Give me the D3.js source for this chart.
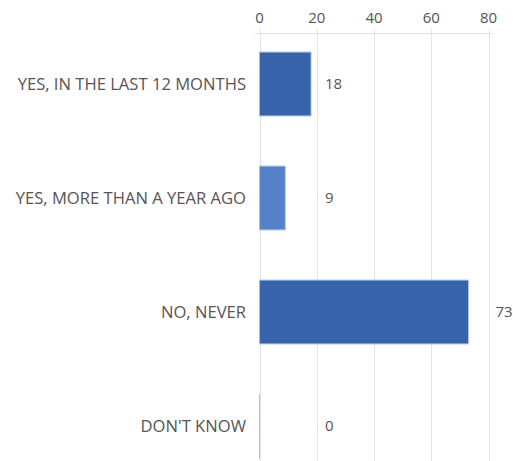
<!DOCTYPE html>
<html><head><meta charset="utf-8">
<script src="https://cdn.jsdelivr.net/npm/d3@7"></script>
<style>body{margin:0;background:#fff}svg{display:block}</style>
</head><body>
<script>
const categories = ["YES, IN THE LAST 12 MONTHS","YES, MORE THAN A YEAR AGO","NO, NEVER","DON'T KNOW"];
const values = [18, 9, 73, 0];
const barColors = ["#3862A9","#5681C9","#3862A9","#3862A9"];
const tickValues = [0, 20, 40, 60, 80];

const W = 513, H = 461;
const svg = d3.select("body").append("svg").attr("width", W).attr("height", H);
const font = "'Open Sans', sans-serif";
const textColor = "#595353";

const x = d3.scaleLinear().domain([0, 80]).range([259.5, 488.5]);
const y = d3.scaleBand().domain(categories).range([27, 483]).paddingInner(0.44).paddingOuter(0.22);

// gridlines
svg.append("g").selectAll("line").data(tickValues).join("line")
  .attr("x1", d => Math.round(x(d)) + 0.5).attr("x2", d => Math.round(x(d)) + 0.5)
  .attr("y1", 29).attr("y2", H)
  .attr("stroke", "#e3e3e3").attr("stroke-width", 1);
svg.append("line").attr("x1", 255).attr("x2", 493).attr("y1", 33.5).attr("y2", 33.5)
  .attr("stroke", "#e3e3e3");

// tick labels
svg.append("g").selectAll("text").data(tickValues).join("text")
  .attr("x", d => x(d)).attr("y", 23)
  .attr("text-anchor", "middle").attr("font-family", font).attr("font-size", 15)
  .attr("fill", textColor).text(d => d);

// bars
svg.append("g").selectAll("rect").data(values).join("rect")
  .attr("x", x(0)).attr("y", (d, i) => y(categories[i]))
  .attr("width", d => Math.max(0.01, x(d) - x(0))).attr("height", y.bandwidth())
  .attr("fill", (d, i) => barColors[i])
  .attr("stroke", "#a9c0e8").attr("stroke-width", 1);

// category labels
svg.append("g").selectAll("text").data(categories).join("text")
  .attr("x", 246).attr("y", d => y(d) + y.bandwidth() / 2 + 6)
  .attr("text-anchor", "end").attr("font-family", font).attr("font-size", 16.6)
  .attr("fill", textColor).text(d => d);

// value labels
svg.append("g").selectAll("text").data(values).join("text")
  .attr("x", d => d > 40 ? x(d) + 27 : x(18) + 14)
  .attr("y", (d, i) => y(categories[i]) + y.bandwidth() / 2 + 5)
  .attr("font-family", font).attr("font-size", 15)
  .attr("fill", textColor).text(d => d);
</script>
</body></html>
